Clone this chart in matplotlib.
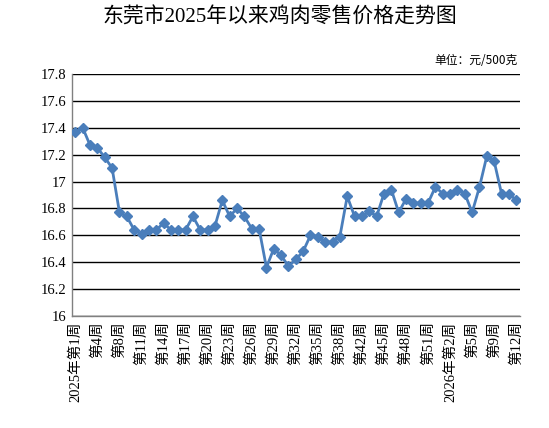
import matplotlib.pyplot as plt
import numpy as np

plt.rcParams['font.family'] = ['Liberation Serif', 'Noto Sans CJK SC']

# weekly retail price of chicken, yuan / 500 g
prices = [
    17.37, 17.40, 17.27, 17.25, 17.18, 17.10, 16.77, 16.74, 16.64, 16.61,
    16.64, 16.64, 16.69, 16.64, 16.64, 16.64, 16.74, 16.64, 16.64, 16.67,
    16.86, 16.74, 16.80, 16.74, 16.65, 16.65, 16.36, 16.50, 16.45, 16.37,
    16.42, 16.48, 16.60, 16.59, 16.55, 16.55, 16.59, 16.89, 16.74, 16.74,
    16.78, 16.74, 16.91, 16.94, 16.77, 16.87, 16.84, 16.84, 16.84, 16.96,
    16.91, 16.91, 16.94, 16.91, 16.77, 16.96, 17.19, 17.15, 16.91, 16.91,
    16.86,
]
tick_labels = [
    '2025年第1周', '第4周', '第8周', '第11周', '第14周', '第17周', '第20周',
    '第23周', '第26周', '第29周', '第32周', '第35周', '第38周', '第42周',
    '第45周', '第48周', '第51周', '2026年第2周', '第5周', '第9周', '第12周',
]
y_ticks = [16, 16.2, 16.4, 16.6, 16.8, 17, 17.2, 17.4, 17.6, 17.8]

fig = plt.figure(figsize=(5.49, 4.28), dpi=100)
ax = fig.add_axes([0.1306, 0.262, 0.8164, 0.565])

x = np.arange(len(prices))
ax.plot(x, prices, color='#4A7EBB', linewidth=2.0, marker='D',
        markersize=4.6, markerfacecolor='#4A7EBB', markeredgecolor='#4A7EBB',
        zorder=3)

ax.set_ylim(16, 17.8)
ax.set_yticks(y_ticks)
ax.set_yticklabels([f'{v:g}' for v in y_ticks], fontsize=10.5)
ax.yaxis.grid(True, color='black', linewidth=1.0)
ax.set_axisbelow(True)

ax.set_xlim(-0.5, len(prices) - 0.5)
ax.set_xticks(x[::3])
ax.set_xticklabels(tick_labels, rotation=90, fontsize=10.5,
                   ha='center', va='top')

ax.tick_params(axis='both', length=0, pad=4)
for side in ('top', 'right'):
    ax.spines[side].set_visible(False)
for side in ('left', 'bottom'):
    ax.spines[side].set_color('#808080')
    ax.spines[side].set_linewidth(1.0)

fig.text(280 / 549, 1 - 18 / 428, '东莞市2025年以来鸡肉零售价格走势图',
         fontsize=15, ha='center', va='center')
fig.text(518 / 549, 1 - 61 / 428, '单位：元/500克', fontsize=8.5,
         ha='right', va='center', family=['Noto Sans CJK SC'])

fig.savefig('out.png', dpi=100)
